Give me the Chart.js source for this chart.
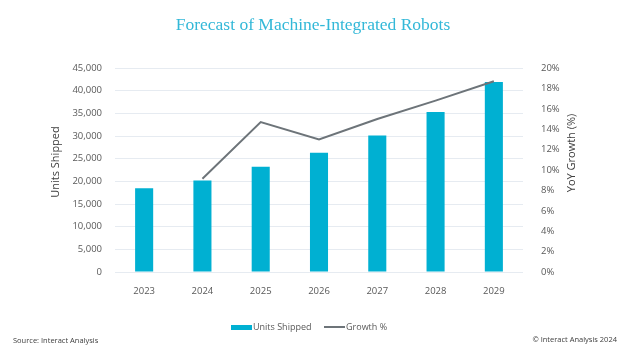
<!DOCTYPE html>
<html>
<head>
<meta charset="utf-8">
<script src="https://cdn.jsdelivr.net/npm/chart.js@4/dist/chart.umd.min.js"></script>
<style>
  html, body { margin: 0; padding: 0; background: #fff; }
  #wrap { position: relative; width: 626px; height: 354px; }
  canvas { position: absolute; left: 0; top: 0; }
  .txt { position: absolute; font-family: "Open Sans", sans-serif; color: #404040; white-space: nowrap; line-height: 12px; }
  .lg { font-size: 9px; color: #595959; top: 321px; }
  .sw { position: absolute; }
  #source { left: 13px; top: 334px; font-size: 7.5px; }
  #copy { right: 9px; top: 333px; font-size: 7.5px; }
</style>
</head>
<body>
<div id="wrap">
  <canvas id="c" width="626" height="354"></canvas>
  <div class="sw" style="left:231px;top:325px;width:21px;height:5px;background:#00b0d2;"></div>
  <div class="txt lg" style="left:253px;">Units Shipped</div>
  <div class="sw" style="left:324px;top:326px;width:21px;height:2px;background:#6d7479;"></div>
  <div class="txt lg" style="left:346px;">Growth %</div>
  <div id="source" class="txt">Source: Interact Analysis</div>
  <div id="copy" class="txt">© Interact Analysis 2024</div>
</div>
<script>
const categories = ["2023", "2024", "2025", "2026", "2027", "2028", "2029"];
const unitsShipped = [18500, 20200, 23200, 26300, 30100, 35300, 41900];
const growthPct = [null, 9.15, 14.7, 13.0, 15.0, 16.8, 18.7];
const chartTitle = "Forecast of Machine-Integrated Robots";
const leftAxisTitle = "Units Shipped";
const rightAxisTitle = "YoY Growth (%)";

const axisTitles = {
  id: 'axisTitles',
  afterDraw(chart) {
    const ctx = chart.ctx;
    [[leftAxisTitle, 56, 162], [rightAxisTitle, 572, 153]].forEach(([t, x, y]) => {
      ctx.save();
      ctx.fillStyle = '#404040';
      ctx.font = '11px "Open Sans"';
      ctx.textAlign = 'center';
      ctx.textBaseline = 'middle';
      ctx.translate(x, y);
      ctx.rotate(-Math.PI / 2);
      ctx.fillText(t, 0, 0);
      ctx.restore();
    });
  }
};

new Chart(document.getElementById('c'), {
  data: {
    labels: categories,
    datasets: [
      {
        type: 'line',
        label: 'Growth %',
        data: growthPct,
        yAxisID: 'y1',
        borderColor: '#6d7479',
        borderWidth: 2,
        pointRadius: 0,
        tension: 0,
        order: 0
      },
      {
        type: 'bar',
        label: 'Units Shipped',
        data: unitsShipped,
        yAxisID: 'y',
        backgroundColor: '#00b0d2',
        barPercentage: 0.31,
        categoryPercentage: 1,
        order: 1
      }
    ]
  },
  options: {
    responsive: false,
    animation: false,
    layout: { padding: 0 },
    plugins: {
      legend: { display: false },
      tooltip: { enabled: false },
      title: {
        display: true,
        text: chartTitle,
        color: '#33b8d8',
        font: { family: '"Liberation Serif", serif', size: 17.5, weight: 'normal' },
        padding: { top: 15, bottom: 32 }
      }
    },
    scales: {
      x: {
        grid: { display: false },
        border: { display: false },
        ticks: { color: '#595959', font: { family: '"Open Sans"', size: 9.5 }, padding: 6 },
        afterFit(s) { s.height = 82; }
      },
      y: {
        position: 'left',
        min: 0, max: 45000,
        grid: { color: '#e6ebf1', lineWidth: 1, drawTicks: false },
        border: { display: false },
        ticks: {
          stepSize: 5000,
          color: '#595959',
          font: { family: '"Open Sans"', size: 9.5 },
          padding: 13,
          callback: v => v.toLocaleString('en-US')
        },
        afterFit(s) { s.width = 115; }
      },
      y1: {
        position: 'right',
        min: 0, max: 20,
        grid: { display: false },
        border: { display: false },
        ticks: {
          stepSize: 2,
          color: '#595959',
          font: { family: '"Open Sans"', size: 9.5 },
          padding: 10,
          callback: v => v + '%'
        },
        afterFit(s) { s.width = 103; }
      }
    }
  },
  plugins: [axisTitles]
});
</script>
</body>
</html>
